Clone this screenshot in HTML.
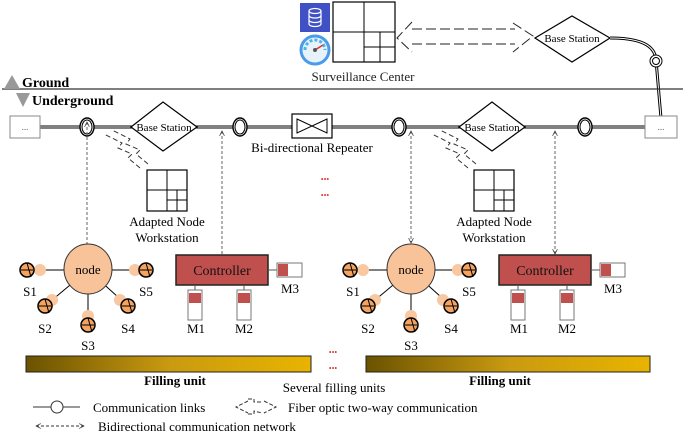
<!DOCTYPE html>
<html><head><meta charset="utf-8"><style>
html,body{margin:0;padding:0;background:#fff;}
svg{display:block;font-family:"Liberation Serif",serif;}
</style></head><body>
<svg width="685" height="432" viewBox="0 0 685 432" xmlns="http://www.w3.org/2000/svg">
<defs>
<linearGradient id="fill" x1="0" x2="1" y1="0" y2="0">
<stop offset="0" stop-color="#6b5200"/><stop offset="0.5" stop-color="#c99a10"/><stop offset="1" stop-color="#e8b400"/>
</linearGradient>
<marker id="ah" viewBox="0 0 10 10" refX="9" refY="5" markerWidth="6" markerHeight="6" orient="auto-start-reverse">
<path d="M1,1 L9,5 L1,9" fill="none" stroke="#333" stroke-width="1.2"/></marker>
<g id="ws"><rect x="0" y="0" width="40" height="41" fill="#fff" stroke="#000" stroke-width="1.2"/>
<line x1="20" y1="0" x2="20" y2="41" stroke="#000"/><line x1="0" y1="20" x2="40" y2="20" stroke="#000"/>
<line x1="30" y1="20" x2="30" y2="41" stroke="#000"/><line x1="20" y1="30" x2="40" y2="30" stroke="#000"/></g>
<g id="ring"><ellipse cx="0" cy="0" rx="7" ry="9" fill="#fff" stroke="#000" stroke-width="1.4"/><ellipse cx="0" cy="0" rx="5" ry="7" fill="none" stroke="#000"/></g>
<g id="fib" fill="none" stroke="#333" stroke-dasharray="5,3">
<path d="M0,0 L-12,-10 L-8,-14 L-22,-20 L-18,-25 L-36,-34"/>
<path d="M8,-4 L-4,-14 L0,-18 L-14,-24 L-10,-29 L-28,-38"/></g>
<g id="sens"><circle cx="0" cy="0" r="7" fill="#f4a460" stroke="#000" stroke-width="1.5"/><line x1="-6" y1="0" x2="6" y2="0" stroke="#000"/><line x1="0" y1="-7" x2="4" y2="7" stroke="#000"/></g>
<g id="grp">
<line x1="88" y1="270" x2="30" y2="270" stroke="#000"/><line x1="88" y1="270" x2="146" y2="270" stroke="#000"/>
<line x1="88" y1="270" x2="45" y2="306" stroke="#000"/><line x1="88" y1="270" x2="128" y2="306" stroke="#000"/><line x1="88" y1="270" x2="88" y2="320" stroke="#000"/>
<circle cx="40" cy="270" r="6" fill="#f9c7a0"/><circle cx="135" cy="270" r="6" fill="#f9c7a0"/>
<circle cx="52" cy="300" r="6" fill="#f9c7a0"/><circle cx="120" cy="300" r="6" fill="#f9c7a0"/><circle cx="88" cy="316" r="6" fill="#f9c7a0"/>
<use href="#sens" x="27" y="270"/><use href="#sens" x="146" y="270"/><use href="#sens" x="45" y="306"/><use href="#sens" x="128" y="306"/><use href="#sens" x="88" y="325"/>
<ellipse cx="88" cy="269" rx="24" ry="25" fill="#f9c39a" stroke="#333"/>
<text x="88" y="274" font-size="13" text-anchor="middle">node</text>
<g font-size="13" text-anchor="middle"><text x="30" y="296">S1</text><text x="146" y="296">S5</text><text x="45" y="333">S2</text><text x="128" y="333">S4</text><text x="88" y="350">S3</text>
<text x="196" y="333">M1</text><text x="244" y="333">M2</text><text x="290" y="293">M3</text></g>
<rect x="176" y="255" width="92" height="30" fill="#c0504d" stroke="#222" stroke-width="1.5"/>
<text x="222" y="275" font-size="14" text-anchor="middle" fill="#111">Controller</text>
<line x1="268" y1="270" x2="277" y2="270" stroke="#555"/>
<rect x="277" y="263" width="25" height="14" fill="#fff" stroke="#777"/><rect x="278" y="264" width="10" height="12" fill="#c0504d"/>
<line x1="195" y1="285" x2="195" y2="292" stroke="#555"/><rect x="188" y="290" width="14" height="30" fill="#fff" stroke="#777"/><rect x="189" y="293" width="12" height="10" fill="#c0504d"/>
<line x1="244" y1="285" x2="244" y2="292" stroke="#555"/><rect x="237" y="290" width="14" height="30" fill="#fff" stroke="#777"/><rect x="238" y="293" width="12" height="10" fill="#c0504d"/>
</g>
</defs>

<!-- top -->
<rect x="300" y="3" width="30" height="29" fill="#3f51c5"/>
<g fill="none" stroke="#fff" stroke-width="1.2"><ellipse cx="315" cy="11" rx="6" ry="2.5"/><path d="M309,11 V24 A6,2.5 0 0 0 321,24 V11"/><path d="M309,15.5 A6,2.5 0 0 0 321,15.5 M309,20 A6,2.5 0 0 0 321,20"/></g>
<circle cx="315" cy="50" r="14" fill="#e8f2fb" stroke="#4a9be8" stroke-width="3"/>
<path d="M305,50 A10,10 0 0 1 325,50" fill="none" stroke="#4ab8e8" stroke-width="3" stroke-dasharray="3,2"/>
<line x1="315" y1="50" x2="323" y2="45" stroke="#e03030" stroke-width="1.5"/><circle cx="315" cy="50" r="2" fill="#555"/>
<rect x="333" y="2" width="62" height="60" fill="#fff" stroke="#000" stroke-width="1.2"/>
<line x1="364" y1="2" x2="364" y2="62" stroke="#000"/><line x1="333" y1="32" x2="395" y2="32" stroke="#000"/>
<line x1="364" y1="47" x2="395" y2="47" stroke="#000"/><line x1="380" y1="32" x2="380" y2="62" stroke="#000"/>
<text x="363" y="81" font-size="13" text-anchor="middle" fill="#222">Surveillance Center</text>
<g fill="none" stroke="#222" stroke-dasharray="10,4"><path d="M412,22 L397,38 L412,52"/><path d="M412,29 L515,29"/><path d="M412,44 L515,44"/><path d="M513,23 L533,36 L513,52"/></g>
<polygon points="535,38 572,16 610,38 572,62" fill="#fff" stroke="#000" stroke-width="1.2"/>
<text x="572" y="42" font-size="11" text-anchor="middle">Base Station</text>
<path d="M610,38 C640,38 655,45 656,60 L661,118" fill="none" stroke="#000" stroke-width="3"/>
<path d="M610,38 C640,38 655,45 656,60 L661,118" fill="none" stroke="#fff" stroke-width="1"/>
<circle cx="656" cy="61" r="6" fill="#fff" stroke="#000"/><circle cx="656" cy="61" r="3.5" fill="none" stroke="#000"/>

<!-- ground -->
<line x1="2" y1="89" x2="683" y2="89" stroke="#333" stroke-width="1.2"/>
<polygon points="4,89 12,75 20,89" fill="#999"/>
<text x="22" y="87" font-size="14" font-weight="bold">Ground</text>
<polygon points="16,93 30,93 23,107" fill="#999"/>
<text x="32" y="105" font-size="14" font-weight="bold">Underground</text>

<!-- main line -->
<line x1="40" y1="127" x2="645" y2="127" stroke="#000" stroke-width="3"/>
<line x1="40" y1="127" x2="645" y2="127" stroke="#fff" stroke-width="1"/>
<rect x="10" y="116" width="30" height="22" fill="#fff" stroke="#888"/><text x="25" y="130" font-size="9" text-anchor="middle" fill="#666">...</text>
<rect x="645" y="116" width="32" height="22" fill="#fff" stroke="#888"/><text x="661" y="130" font-size="9" text-anchor="middle" fill="#666">...</text>
<use href="#ring" x="87" y="127"/><use href="#ring" x="240" y="127"/><use href="#ring" x="399" y="127"/><use href="#ring" x="585" y="127"/>
<polygon points="131,127 163,102 197,127 163,151" fill="#fff" stroke="#000" stroke-width="1.2"/>
<text x="164" y="131" font-size="11" text-anchor="middle">Base Station</text>
<polygon points="459,127 492,102 525,127 492,151" fill="#fff" stroke="#000" stroke-width="1.2"/>
<text x="492" y="131" font-size="11" text-anchor="middle">Base Station</text>
<rect x="292" y="114" width="40" height="24" fill="#fff" stroke="#000" stroke-width="1.2"/>
<polygon points="297,119 312,126 297,133" fill="none" stroke="#000"/><polygon points="327,119 312,126 327,133" fill="none" stroke="#000"/>
<text x="312" y="152" font-size="13" text-anchor="middle">Bi-directional Repeater</text>
<g fill="#d33" font-size="8" text-anchor="middle"><text x="325" y="182">•••</text><text x="325" y="198">•••</text><text x="333" y="355">•••</text><text x="333" y="371">•••</text></g>

<!-- workstations -->
<use href="#fib" x="140" y="168"/><use href="#fib" x="468" y="168"/>
<use href="#ws" x="147" y="170"/><use href="#ws" x="474" y="170"/>
<g font-size="13" text-anchor="middle"><text x="167" y="226">Adapted Node</text><text x="167" y="242">Workstation</text>
<text x="494" y="226">Adapted Node</text><text x="494" y="242">Workstation</text></g>

<!-- dashed verticals -->
<g stroke="#666" stroke-dasharray="3,2" fill="none">
<line x1="87" y1="122" x2="87" y2="244" marker-start="url(#ah)"/>
<line x1="222" y1="131" x2="222" y2="255" marker-start="url(#ah)"/>
<line x1="411" y1="131" x2="411" y2="243" marker-start="url(#ah)" marker-end="url(#ah)"/>
<line x1="555" y1="131" x2="555" y2="254" marker-start="url(#ah)" marker-end="url(#ah)"/>
</g>

<use href="#grp"/><use href="#grp" x="323"/>

<!-- filling -->
<rect x="26" y="356" width="285" height="16" fill="url(#fill)" stroke="#222"/>
<rect x="366" y="356" width="284" height="16" fill="url(#fill)" stroke="#222"/>
<g font-size="13" text-anchor="middle"><text x="175" y="385" font-weight="bold">Filling unit</text><text x="500" y="385" font-weight="bold">Filling unit</text>
<text x="334" y="392">Several filling units</text></g>

<!-- legend -->
<line x1="33" y1="407" x2="80" y2="407" stroke="#333"/><circle cx="57" cy="407" r="6" fill="#fff" stroke="#333"/>
<text x="93" y="412" font-size="13">Communication links</text>
<g fill="none" stroke="#333" stroke-dasharray="4,2"><path d="M248,401 L236,407 L248,413"/><path d="M264,401 L276,407 L264,413"/><path d="M248,399 L254,399 L254,402 L262,402"/><path d="M248,414 L254,414 L254,411 L262,413"/></g>
<text x="288" y="412" font-size="13">Fiber optic two-way communication</text>
<line x1="36" y1="426" x2="84" y2="426" stroke="#333" stroke-dasharray="3,2" marker-start="url(#ah)" marker-end="url(#ah)"/>
<text x="98" y="431" font-size="13">Bidirectional communication network</text>
</svg>
</body></html>
